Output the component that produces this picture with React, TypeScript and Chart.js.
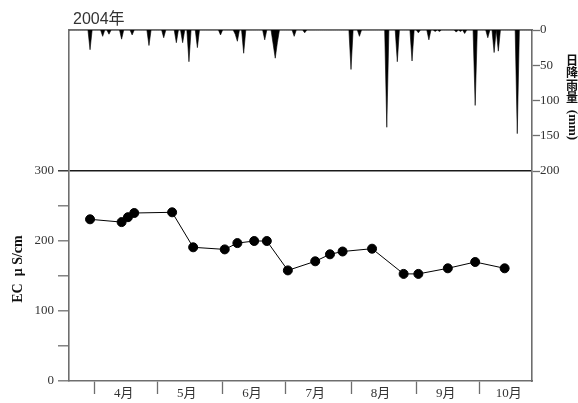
import { useEffect, useRef } from "react";
import { Chart, registerables } from "chart.js";

Chart.register(...registerables);

// ---- data ----
const yearLabel = "2004年";
const monthLabels = ["4月", "5月", "6月", "7月", "8月", "9月", "10月"];
const monthStarts = ["04-01", "05-01", "06-01", "07-01", "08-01", "09-01", "10-01"];
const monthLabelDates = ["04-15", "05-15", "06-15", "07-15", "08-15", "09-15", "10-15"];
const rangeStart = "03-20";
const rangeEnd = "10-26";

// electric conductivity samples (µS/cm)
const ecDates = [
  "03-30", "04-14", "04-17", "04-20", "05-08", "05-18", "06-02", "06-08", "06-16", "06-22",
  "07-02", "07-15", "07-22", "07-28", "08-11", "08-26", "09-02", "09-16", "09-29", "10-13",
];
const ecValues = [
  231, 227, 234, 240, 241, 191, 188, 197, 200, 200,
  158, 171, 181, 185, 189, 153, 153, 161, 170, 161,
];

// daily rainfall (mm); days not listed had no rain
const rainDates = [
  "03-30", "04-05", "04-08", "04-14", "04-19", "04-27", "05-04", "05-10", "05-13", "05-16",
  "05-20", "05-31", "06-07", "06-08", "06-11", "06-21", "06-25", "06-26", "06-27", "07-05",
  "07-10", "08-01", "08-05", "08-18", "08-23", "08-30", "09-02", "09-07", "09-10", "09-12",
  "09-20", "09-22", "09-24", "09-29", "10-05", "10-08", "10-10", "10-19",
];
const rainMm = [
  28, 9, 6, 13, 7, 22, 11, 18, 18, 45,
  25, 7, 6, 16, 33, 14, 20, 40, 18, 9,
  4, 56, 9, 138, 45, 44, 4, 14, 2, 2,
  3, 2, 5, 107, 11, 32, 30, 147,
];

const ecTicks = [0, 50, 100, 150, 200, 250, 300];
const ecLabeledTicks = [0, 100, 200, 300];
const rainTicks = [0, 50, 100, 150, 200];

// ---- helpers ----
// days counted from April 1st, 2004
function dayOf(md: string): number {
  const [m, d] = md.split("-").map(Number);
  return Math.round((Date.UTC(2004, m - 1, d) - Date.UTC(2004, 3, 1)) / 86400000);
}

const AXIS = "#6e6e6e";
const TEXT = "#333333";
const SERIF = "'Liberation Serif', 'Times New Roman', 'Noto Sans CJK JP', serif";

export default function App() {
  const canvasRef = useRef<HTMLCanvasElement | null>(null);

  useEffect(() => {
    const canvas = canvasRef.current;
    if (!canvas) return;

    const xMin = dayOf(rangeStart);
    const xMax = dayOf(rangeEnd);
    const boundaryDays = monthStarts.map(dayOf);
    const labelDays = monthLabelDates.map(dayOf);

    const rainByDay = new Map<number, number>();
    rainDates.forEach((d, i) => rainByDay.set(dayOf(d), rainMm[i]));
    const rainSeries: { x: number; y: number }[] = [];
    for (let d = xMin; d <= xMax; d++) rainSeries.push({ x: d, y: rainByDay.get(d) ?? 0 });

    const ecSeries = ecDates.map((d, i) => ({ x: dayOf(d), y: ecValues[i] }));

    // EC panel: 0–300 fills the lower 210 of 351 px; rain panel: 0–200 fills the upper 141 px
    const ecMax = (300 * 351) / 210;
    const rainMax = (200 * 351) / 141;

    const titles = {
      id: "panelTitles",
      afterDraw(chart: Chart) {
        const ctx = chart.ctx;
        ctx.save();
        ctx.fillStyle = TEXT;
        ctx.font = "16px 'Liberation Sans', 'Noto Sans CJK JP', sans-serif";
        ctx.textAlign = "left";
        ctx.textBaseline = "alphabetic";
        ctx.fillText(yearLabel, 73, 24);

        // left axis title
        ctx.save();
        ctx.translate(22, 269);
        ctx.rotate(-Math.PI / 2);
        ctx.textAlign = "center";
        ctx.textBaseline = "alphabetic";
        ctx.fillStyle = "#111";
        ctx.font = "bold 14px " + SERIF;
        ctx.fillText("EC  μ S/cm", 0, 0);
        ctx.restore();

        // right axis title, written vertically
        ctx.fillStyle = "#111";
        ctx.font = "bold 12px 'Noto Sans CJK JP', sans-serif";
        ctx.textAlign = "center";
        ctx.textBaseline = "middle";
        const chars = ["日", "降", "雨", "量"];
        chars.forEach((c, i) => ctx.fillText(c, 572, 60 + i * 12.5));
        ctx.save();
        ctx.translate(572, 125);
        ctx.rotate(Math.PI / 2);
        ctx.font = "bold 13px " + SERIF;
        ctx.fillText("(mm)", 0, 0);
        ctx.restore();
        ctx.restore();
      },
    };

    const chart = new Chart(canvas, {
      type: "line",
      data: {
        datasets: [
          {
            label: "rain",
            data: rainSeries,
            xAxisID: "x",
            yAxisID: "y2",
            borderColor: "#000",
            backgroundColor: "#000",
            borderWidth: 0.6,
            pointRadius: 0,
            tension: 0,
            fill: "origin",
          },
          {
            label: "EC",
            data: ecSeries,
            xAxisID: "x",
            yAxisID: "y",
            borderColor: "#000",
            backgroundColor: "#000",
            borderWidth: 1,
            pointRadius: 4.5,
            pointBackgroundColor: "#000",
            pointBorderColor: "#000",
            tension: 0,
            fill: false,
          },
        ],
      },
      options: {
        responsive: false,
        animation: false,
        devicePixelRatio: 1,
        layout: { padding: 0 },
        plugins: { legend: { display: false }, tooltip: { enabled: false } },
        scales: {
          x: {
            type: "linear",
            position: "bottom",
            min: xMin,
            max: xMax,
            afterBuildTicks(scale: any) {
              const vals = [...boundaryDays, ...labelDays].sort((a, b) => a - b);
              scale.ticks = vals.map((v) => ({ value: v }));
            },
            afterFit(scale: any) {
              scale.height = 22;
            },
            ticks: {
              autoSkip: false,
              maxRotation: 0,
              padding: -8,
              color: TEXT,
              font: { family: SERIF, size: 13 },
              callback(value: any) {
                const i = labelDays.indexOf(Number(value));
                return i >= 0 ? monthLabels[i] : "";
              },
            },
            grid: {
              drawOnChartArea: false,
              tickLength: 13,
              tickWidth: 1.3,
              tickColor: (ctx: any) =>
                ctx.tick && boundaryDays.includes(ctx.tick.value) ? AXIS : "rgba(0,0,0,0)",
            },
            border: { color: AXIS, width: 1.6 },
          },
          x2: {
            type: "linear",
            position: "top",
            min: xMin,
            max: xMax,
            afterFit(scale: any) {
              scale.height = 30;
            },
            ticks: { display: false },
            grid: { display: false, drawTicks: false },
            border: { color: AXIS, width: 1.6 },
          },
          y: {
            type: "linear",
            position: "left",
            min: 0,
            max: ecMax,
            afterBuildTicks(scale: any) {
              scale.ticks = ecTicks.map((v) => ({ value: v }));
            },
            afterFit(scale: any) {
              scale.width = 69;
            },
            ticks: {
              color: TEXT,
              padding: 4,
              font: { family: SERIF, size: 13 },
              callback(value: any) {
                return ecLabeledTicks.includes(Number(value)) ? String(value) : "";
              },
            },
            grid: {
              tickLength: 11,
              lineWidth: 1.6,
              tickWidth: 1.3,
              color: (ctx: any) => (ctx.tick && ctx.tick.value === 300 ? "#1a1a1a" : "rgba(0,0,0,0)"),
              tickColor: (ctx: any) => (ctx.tick && ctx.tick.value === 300 ? "#1a1a1a" : AXIS),
            },
            border: { color: AXIS, width: 1.6 },
          },
          y2: {
            type: "linear",
            position: "right",
            reverse: true,
            min: 0,
            max: rainMax,
            afterBuildTicks(scale: any) {
              scale.ticks = rainTicks.map((v) => ({ value: v }));
            },
            afterFit(scale: any) {
              scale.width = 46;
            },
            ticks: {
              color: TEXT,
              padding: 0,
              font: { family: SERIF, size: 13 },
            },
            grid: {
              drawOnChartArea: false,
              tickLength: 8,
              tickWidth: 1.3,
              tickColor: AXIS,
            },
            border: { color: AXIS, width: 1.6 },
          },
        },
      },
      plugins: [titles],
    } as any);

    return () => chart.destroy();
  }, []);

  return (
    <div style={{ position: "fixed", left: 0, top: 0, width: 578, height: 403, background: "#fff" }}>
      <canvas ref={canvasRef} width={578} height={403} style={{ display: "block" }} />
    </div>
  );
}
